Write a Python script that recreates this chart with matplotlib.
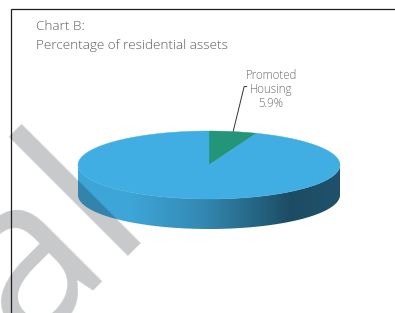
import numpy as np
import matplotlib
matplotlib.use('Agg')
import matplotlib.pyplot as plt
from matplotlib.patches import Polygon
from matplotlib.colors import to_rgb

# ---- data ----
categories = ["Promoted Housing", "Other residential assets"]
shares = [5.9, 94.1]
slice_colors = ["#25957a", "#41aee3"]
show_label = [True, False]
label_texts = ["Promoted\nHousing\n5.9%", ""]
title_lines = ["Chart B:", "Percentage of residential assets"]
watermark = "al"

W, H = 395, 313
fig = plt.figure(figsize=(W / 100, H / 100), dpi=100)
ax = fig.add_axes([0, 0, 1, 1])
ax.set_xlim(0, W)
ax.set_ylim(H, 0)
ax.axis('off')

# pie geometry (pixels)
cx, cy, rx, ry, depth = 209, 165, 131, 34, 30
start = 90.0


def pt(theta_deg, dy=0.0):
    t = np.radians(theta_deg)
    return cx + rx * np.cos(t), cy - ry * np.sin(t) + dy


total = float(sum(shares))
angles = []
a0 = start
for v in shares:
    a1 = a0 - 360.0 * v / total
    angles.append((a1, a0))
    a0 = a1

# side shading along x
sx = [0.0, 0.2, 0.47, 0.66, 0.81, 1.0]
sv = [0.95, 0.95, 0.79, 0.60, 0.44, 0.47]
N = 400
xs = np.linspace(0, 1, N)
shade = np.interp(xs, sx, sv)

for (lo, hi), col in zip(angles, slice_colors):
    base = np.array(to_rgb(col))
    for k in range(-2, 3):
        f0 = max(lo, 180 + 360 * k)
        f1 = min(hi, 360 + 360 * k)
        if f1 <= f0:
            continue
        th = np.linspace(f0, f1, 200)
        top = np.array([pt(t) for t in th])
        bot = np.array([pt(t, depth) for t in th[::-1]])
        poly = Polygon(np.vstack([top, bot]), closed=True, facecolor='none',
                       edgecolor='none')
        ax.add_patch(poly)
        img = (shade[:, None] * base[None, :])[None, :, :]
        im = ax.imshow(np.clip(img, 0, 1), extent=(cx - rx, cx + rx, cy + ry + depth + 1, cy - 1),
                       aspect='auto', interpolation='bilinear', zorder=1)
        im.set_clip_path(poly)

for (lo, hi), col in zip(angles, slice_colors):
    th = np.linspace(hi, lo, 300)
    arc = np.array([pt(t) for t in th])
    verts = np.vstack([[cx, cy], arc])
    ax.add_patch(Polygon(verts, closed=True, facecolor=col, edgecolor=col,
                         linewidth=0.3, zorder=2))

# labels with leader
for (lo, hi), txt, show in zip(angles, label_texts, show_label):
    if not show:
        continue
    mid = (lo + hi) / 2
    x0, y0 = pt(mid)
    ax.plot([x0, x0 + 11, x0 + 14], [y0, y0 - 45, y0 - 45], color='#333333',
            lw=0.7, zorder=4, solid_capstyle='butt')
    ax.text(x0 + 38, y0 - 63, txt, ha='center', va='top', fontsize=8.3,
            family='Open Sans', fontweight='light', color='#6b6b6b',
            linespacing=1.1, zorder=4)

# title
ax.text(36, 30.5, title_lines[0], ha='left', va='baseline', fontsize=9.7,
        family='Open Sans', fontweight='light', color='#5a5a5a')
ax.text(36, 49, title_lines[1], ha='left', va='baseline', fontsize=9.7,
        family='Open Sans', fontweight='light', color='#5a5a5a')

# watermark
ax.text(152, 222, watermark, rotation=45, rotation_mode='anchor', ha='right',
        va='baseline', fontsize=160, family='Open Sans', color='#10141d',
        alpha=0.23, zorder=5)

# frame
ax.plot([10.5, 10.5, W], [H, 8.8, 8.8], color='#1e1e1e', lw=0.9, zorder=6,
        solid_joinstyle='miter')

fig.savefig('out.png', dpi=100)
